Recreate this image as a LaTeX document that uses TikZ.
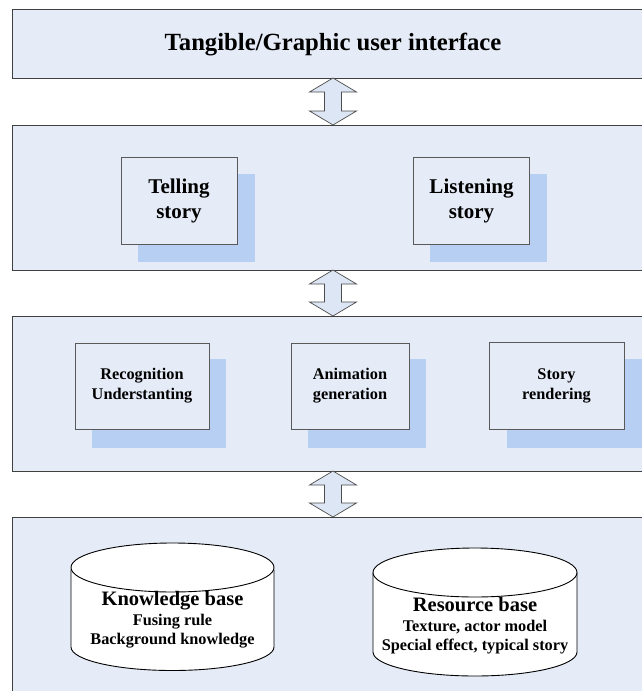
\documentclass[tikz,border=0pt]{standalone}
\usepackage{fontspec}
\setmainfont{Liberation Serif}
\usetikzlibrary{calc}
\begin{document}
\begin{tikzpicture}[x=1pt,y=-1pt,
  panel/.style={draw=black!75,line width=0.8pt,fill=panelblue},
  procbox/.style={draw=black!65,line width=1pt,fill=panelblue,align=center,font=\bfseries},
  shadowbox/.style={fill=shadowblue,draw=none},
  blockarrow/.style={draw=black!70,line width=0.7pt,fill=arrowblue},
  cyl/.style={draw=black,line width=0.9pt,fill=white},
  cyltext/.style={align=center,font=\bfseries\fontsize{16.3}{19.5}\selectfont}
]
\definecolor{panelblue}{HTML}{E6ECF7}
\definecolor{shadowblue}{HTML}{B7CFF3}
\definecolor{arrowblue}{HTML}{DDE6F4}
\useasboundingbox (0,0) rectangle (641,691);
\fill[white] (0,0) rectangle (641,691);
% panels
\path[panel] (12,9) rectangle (650,78);
\node[font=\bfseries\fontsize{24.7}{28}\selectfont] (ui) at (333,44.5) {Tangible/Graphic user interface};
\path[panel] (12,125) rectangle (650,270);
\path[panel] (12,316) rectangle (650,471);
\path[panel] (12,517) rectangle (650,700);
\coordinate (p1b) at (333,78); \coordinate (p2t) at (333,125);
\coordinate (p2b) at (333,270); \coordinate (p3t) at (333,316);
\coordinate (p3b) at (333,471); \coordinate (p4t) at (333,517);
% block arrows
\foreach \a/\b in {p1b/p2t,p2b/p3t,p3b/p4t}{
  \draw[blockarrow] (\a) -- ++(23.5,14) -- ++(-15,0) |- ($(\b)+(8.5,-14)$) -- ++(15,0) -- (\b)
    -- ++(-23.5,-14) -- ++(15,0) |- ($(\a)+(-8.5,14)$) -- ++(-15,0) -- cycle;
}
% panel 2 boxes
\fill[shadowblue] (138,174) rectangle (255,262);
\node[procbox,minimum width=116pt,minimum height=87pt,font=\bfseries\fontsize{21}{25}\selectfont] (tell) at (179,200.5) {Telling\\story};
\fill[shadowblue] (430,174) rectangle (547,262);
\node[procbox,minimum width=116pt,minimum height=87pt,font=\bfseries\fontsize{21}{25}\selectfont] (listen) at (471.5,200.5) {Listening\\story};
% panel 3 boxes
\fill[shadowblue] (92,359) rectangle (226,448);
\node[procbox,minimum width=134pt,minimum height=86pt,font=\bfseries\fontsize{16.3}{20}\selectfont] (recog) at (142,386) {Recognition\\Understanting};
\fill[shadowblue] (308,359) rectangle (426,448);
\node[procbox,minimum width=118pt,minimum height=86pt,font=\bfseries\fontsize{16.3}{20}\selectfont] (anim) at (350,386) {Animation\\generation};
\fill[shadowblue] (507,359) rectangle (660,448);
\node[procbox,minimum width=135pt,minimum height=87pt,font=\bfseries\fontsize{16.3}{20}\selectfont] (render) at (556.5,385.5) {Story\\rendering};
% cylinders
\draw[cyl] (71,570) -- (71,647) arc[start angle=180,end angle=0,x radius=101.5,y radius=23.5] -- (274,570) -- cycle;
\draw[cyl] (172.5,567.5) ellipse[x radius=101.5,y radius=24.5];
\node[cyltext] (kb) at (172.5,620) {{\fontsize{20.5}{24}\selectfont Knowledge base}\\Fusing rule\\Background knowledge};
\draw[cyl] (373,573) -- (373,652) arc[start angle=180,end angle=0,x radius=102,y radius=24] -- (577,573) -- cycle;
\draw[cyl] (475,572.5) ellipse[x radius=102,y radius=24.5];
\node[cyltext] (rb) at (475,626) {{\fontsize{20.5}{24}\selectfont Resource base}\\Texture, actor model\\Special effect, typical story};
\end{tikzpicture}
\end{document}
